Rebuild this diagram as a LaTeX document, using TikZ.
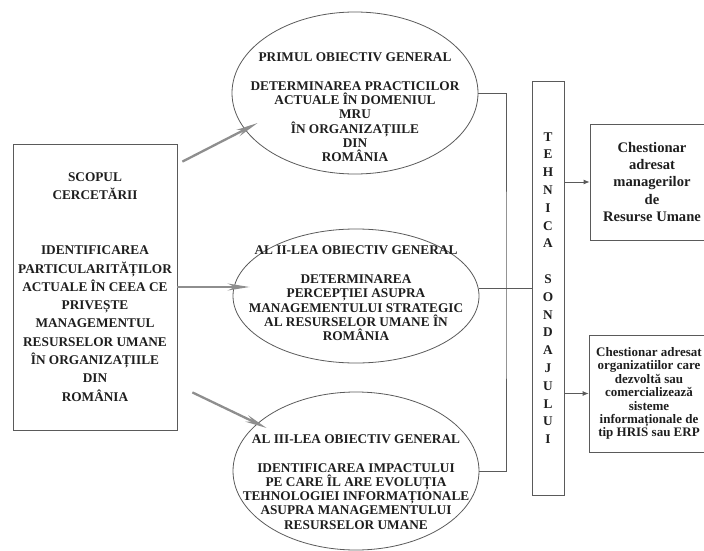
\documentclass[tikz,border=0pt]{standalone}
\usepackage{fontspec}
\setmainfont{Liberation Serif}
\usetikzlibrary{arrows,arrows.meta,shapes.geometric}

\definecolor{linegray}{HTML}{5A5A5A}
\definecolor{aimgray}{HTML}{8E8E8E}
\definecolor{textgray}{HTML}{1E1E1E}

\begin{document}
\begin{tikzpicture}[x=1pt, y=-1pt, text=textgray, line width=0.8pt]
    \tikzstyle{box}=[draw=linegray, rectangle, inner sep=0pt, align=center]
    \tikzstyle{goal}=[draw=linegray, ellipse, inner sep=0pt]
    \tikzstyle{goaltext}=[align=center, inner sep=0pt,
                          font=\bfseries\fontsize{13.3}{14.3}\selectfont]
    \tikzstyle{link}=[draw=linegray]
    \tikzstyle{toform}=[draw=linegray, -{Latex[length=6pt, width=5pt]}]
    \tikzstyle{aim}=[draw=aimgray, line width=2.3pt,
                     -{Stealth[length=22pt, width=7pt]}]

    \useasboundingbox (0,0) rectangle (704,551);
    \clip (0,0) rectangle (704,551);

    % scopul cercetarii
    \node[box, minimum width=164pt, minimum height=286pt,
          font=\bfseries\fontsize{13.3}{18.3}\selectfont] (scop) at (95,287)
        {SCOPUL\\CERCETĂRII\\[36.6pt]IDENTIFICAREA\\PARTICULARITĂȚILOR\\
         ACTUALE ÎN CEEA CE\\PRIVEȘTE\\MANAGEMENTUL\\RESURSELOR UMANE\\
         ÎN ORGANIZAȚIILE\\DIN\\ROMÂNIA};

    % obiective
    \node[goal, minimum width=246pt, minimum height=162pt] (ob1) at (355,93) {};
    \node[goal, minimum width=246pt, minimum height=134pt] (ob2) at (356,296) {};
    \node[goal, minimum width=246pt, minimum height=158pt] (ob3) at (356,471) {};

    \node[goaltext] (ob1t) at (355,107.5)
        {PRIMUL OBIECTIV GENERAL\\[14.3pt]DETERMINAREA PRACTICILOR\\
         ACTUALE ÎN DOMENIUL\\MRU\\ÎN ORGANIZAȚIILE\\DIN\\ROMÂNIA};
    \node[goaltext] (ob2t) at (356,293.5)
        {AL II-LEA OBIECTIV GENERAL\\[14.3pt]DETERMINAREA\\PERCEPȚIEI ASUPRA\\
         MANAGEMENTULUI STRATEGIC\\AL RESURSELOR UMANE ÎN\\ROMÂNIA};
    \node[goaltext] (ob3t) at (356,482)
        {AL III-LEA OBIECTIV GENERAL\\[14.3pt]IDENTIFICAREA IMPACTULUI\\
         PE CARE ÎL ARE EVOLUȚIA\\TEHNOLOGIEI INFORMAȚIONALE\\
         ASUPRA MANAGEMENTULUI\\RESURSELOR UMANE};

    % tehnica sondajului
    \node[box, minimum width=32pt, minimum height=414pt,
          font=\bfseries\fontsize{13.3}{17.8}\selectfont] (teh) at (548,288)
        {T\\E\\H\\N\\I\\C\\A\\[17.8pt]S\\O\\N\\D\\A\\J\\U\\L\\U\\I};

    % chestionare
    \node[box, minimum width=124pt, minimum height=116pt,
          font=\bfseries\fontsize{14.6}{17.2}\selectfont] (ch1) at (652,182)
        {Chestionar\\adresat\\managerilor\\de\\Resurse Umane};
    \node[box, minimum width=120pt, minimum height=117pt,
          font=\bfseries\fontsize{13}{13.4}\selectfont] (ch2) at (649,393.5)
        {Chestionar adresat\\organizatiilor care\\dezvoltă sau\\
         comercializează\\sisteme\\informaționale de\\tip HRIS sau ERP};

    \coordinate (bus) at (506,288);

    \draw[link] (ob1.east) -| (bus) |- (ob3.east);
    \draw[link] (ob2.east |- teh.west) -- (teh.west);

    \draw[toform] (teh.east |- ch1.west) -- (ch1.west);
    \draw[toform] (teh.east |- ch2.west) -- (ch2.west);

    \draw[aim] ([xshift=5pt, yshift=-18pt]scop.north east)
        -- ([xshift=26pt, yshift=-30pt]ob1.west);
    \draw[aim] (scop.east) -- ([xshift=17pt, yshift=9pt]ob2.west);
    \draw[aim] ([xshift=15pt, yshift=38pt]scop.south east)
        -- ([xshift=34pt, yshift=43pt]ob3.west);
\end{tikzpicture}
\end{document}
